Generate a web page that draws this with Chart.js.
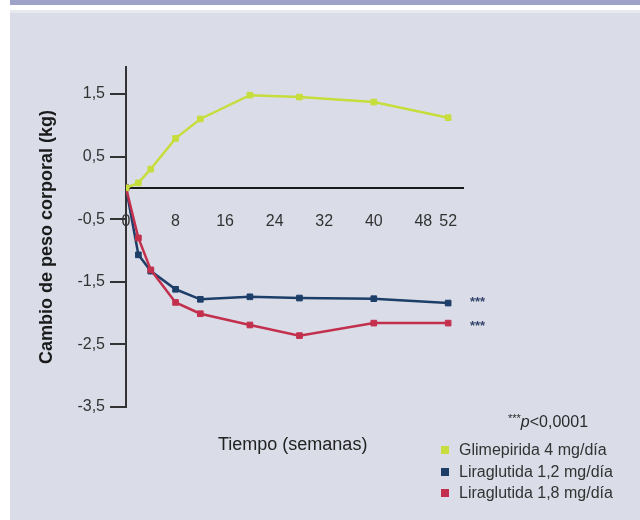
<!DOCTYPE html>
<html>
<head>
<meta charset="utf-8">
<script src="https://cdn.jsdelivr.net/npm/chart.js@4.4.1/dist/chart.umd.min.js"></script>
<style>
  body { margin: 0; background: #fff; font-family: "Liberation Sans", Arial, sans-serif; }
  #page { position: relative; width: 640px; height: 520px; overflow: hidden; background: #fff; }
  .band { position: absolute; left: 10px; top: 0; width: 630px; height: 5px; background: #9ea2c8; }
  .strip { position: absolute; left: 10px; top: 10px; width: 630px; height: 3px; background: #e7eaee; }
  .panel { position: absolute; left: 10px; top: 13px; width: 630px; height: 507px; background: #dadde8; }
  canvas { position: absolute; left: 0; top: 0; }
  .txt { position: absolute; color: #2b2b2b; white-space: nowrap; }
  .stars { position: absolute; color: #34446c; font-size: 13px; font-weight: bold; }
  .sw { display: inline-block; width: 8px; height: 8px; margin-right: 10px; vertical-align: 1px; }
</style>
</head>
<body>
<div id="page">
  <div class="band"></div>
  <div class="strip"></div>
  <div class="panel"></div>
  <canvas id="chart" width="640" height="520"></canvas>

  <div class="stars" style="left:470px; top:294px;">***</div>
  <div class="stars" style="left:470px; top:318px;">***</div>

  <div class="txt" style="left:218px; top:434px; font-size:18px; color:#222;">Tiempo (semanas)</div>
  <div class="txt" style="left:508px; top:412px; font-size:16px;"><span style="font-size:11px; vertical-align:5px;">***</span><i>p</i>&lt;0,0001</div>

  <div id="legend"></div>
</div>

<script>
// semanas
const weeks = [0, 2, 4, 8, 12, 20, 28, 40, 52];
const xTicks = [0, 8, 16, 24, 32, 40, 48, 52];
const yTicks = [-3.5, -2.5, -1.5, -0.5, 0.5, 1.5];

// cambio de peso corporal (kg)
const glimepirida = [0, 0.08, 0.3, 0.79, 1.1, 1.48, 1.45, 1.37, 1.12];
const lira12 = [0, -1.07, -1.33, -1.62, -1.78, -1.74, -1.76, -1.77, -1.84];
const lira18 = [0, -0.8, -1.31, -1.83, -2.01, -2.19, -2.36, -2.16, -2.16];

const series = [
    { label: 'Glimepirida 4 mg/día', data: glimepirida, color: '#c6dd3c' },
    { label: 'Liraglutida 1,2 mg/día', data: lira12, color: '#1d3e68' },
    { label: 'Liraglutida 1,8 mg/día', data: lira18, color: '#c3304d' }
];

// legend
const legend = document.getElementById('legend');
series.forEach((s, i) => {
    const row = document.createElement('div');
    row.className = 'txt';
    row.style.left = '441px';
    row.style.top = (441 + i * 21.5) + 'px';
    row.style.fontSize = '16px';
    row.style.color = '#333';
    row.innerHTML = `<span class="sw" style="background:${s.color}"></span>${s.label}`;
    legend.appendChild(row);
});

const toPoints = arr => arr.map((v, i) => ({ x: weeks[i], y: v }));

// dibujo: glimepirida arriba, luego 1,8, luego 1,2
const drawOrder = [series[0], series[2], series[1]];

Chart.defaults.font.family = '"Liberation Sans", Arial, sans-serif';

new Chart(document.getElementById('chart').getContext('2d'), {
    type: 'line',
    data: {
        datasets: drawOrder.map(s => ({
            label: s.label,
            data: toPoints(s.data),
            borderColor: s.color,
            backgroundColor: s.color,
            borderWidth: 2.5,
            pointStyle: 'rect',
            pointRadius: 4,
            pointBorderWidth: 1,
            tension: 0,
            fill: false
        }))
    },
    options: {
        responsive: false,
        animation: false,
        layout: { padding: { left: 10, top: 67, right: 177, bottom: 113 } },
        plugins: { legend: { display: false }, tooltip: { enabled: false } },
        scales: {
            x: {
                type: 'linear',
                position: { y: 0 },
                min: 0,
                max: 54.4,
                afterBuildTicks: s => { s.ticks = xTicks.map(v => ({ value: v })); },
                grid: { display: false },
                border: { display: true, color: '#1a1a1a', width: 2 },
                ticks: {
                    z: -1,
                    autoSkip: false,
                    maxRotation: 0,
                    padding: 16,
                    color: '#333',
                    font: { size: 16 },
                    callback: v => String(v)
                }
            },
            y: {
                min: -3.5,
                max: 1.93,
                afterBuildTicks: s => { s.ticks = yTicks.map(v => ({ value: v })); },
                afterFit: s => { s.width = 116; },
                grid: { drawOnChartArea: false, drawTicks: true, tickLength: 16, color: '#333', lineWidth: 2 },
                border: { display: true, color: '#333', width: 2 },
                ticks: {
                    padding: 5,
                    color: '#333',
                    font: { size: 16 },
                    callback: v => v.toFixed(1).replace('.', ',')
                },
                title: {
                    display: true,
                    text: 'Cambio de peso corporal (kg)',
                    color: '#1a1a1a',
                    font: { size: 18, weight: 'bold' },
                    padding: { top: 26, bottom: 0 }
                }
            }
        }
    }
});
</script>
</body>
</html>
